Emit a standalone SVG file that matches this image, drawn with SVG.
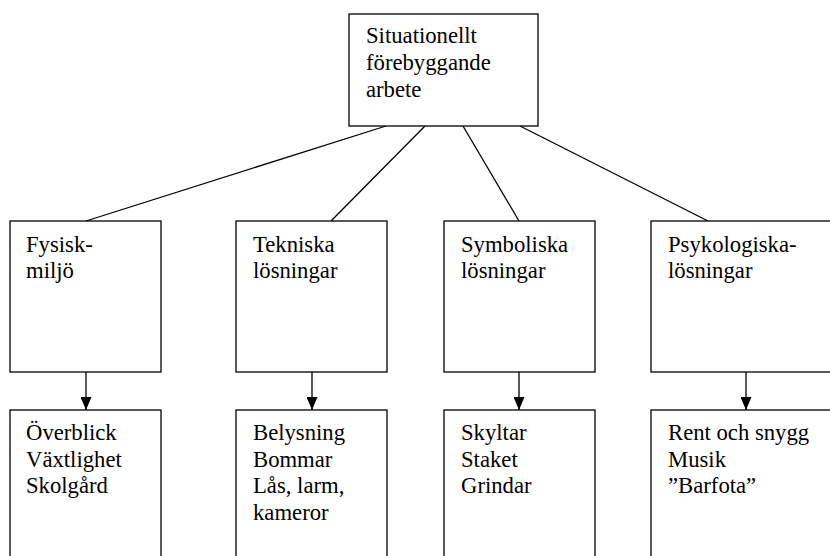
<svg xmlns="http://www.w3.org/2000/svg" width="830" height="556" viewBox="0 0 830 556" font-family="'Liberation Serif', 'DejaVu Serif', serif">
<style>
rect{fill:#fff;stroke:#000;stroke-width:1.3}
text{font-family:'Liberation Serif','DejaVu Serif',serif;font-size:22.7px;fill:#000}
.c line{stroke:#000;stroke-width:1.3}
</style>
<defs>
<marker id="ah" markerUnits="userSpaceOnUse" markerWidth="13" markerHeight="11" refX="13" refY="5.5" orient="auto" viewBox="0 0 13 11">
<path d="M0,0 L13,5.5 L0,11 Z" fill="#000"/>
</marker>
</defs>
<rect x="0" y="0" width="830" height="556" style="stroke:none"/>
<g class="c" id="connectors">
<line x1="386" y1="126" x2="86" y2="221"/>
<line x1="425" y1="126" x2="331" y2="221"/>
<line x1="463" y1="126" x2="519" y2="221"/>
<line x1="520" y1="126" x2="708" y2="221"/>
<line x1="86" y1="372" x2="86" y2="410" marker-end="url(#ah)"/>
<line x1="312" y1="372" x2="312" y2="410" marker-end="url(#ah)"/>
<line x1="519" y1="372" x2="519" y2="410" marker-end="url(#ah)"/>
<line x1="746" y1="372" x2="746" y2="410" marker-end="url(#ah)"/>
</g>
<g id="root">
<rect x="349" y="14" width="189" height="112"/>
<text x="366" y="43">Situationellt</text>
<text x="366" y="70">förebyggande</text>
<text x="366" y="96.5">arbete</text>
</g>
<g id="fysisk">
<rect x="10" y="221" width="151" height="151"/>
<text x="26" y="251.5">Fysisk-</text>
<text x="26" y="278">miljö</text>
</g>
<g id="tekniska">
<rect x="236" y="221" width="151" height="151"/>
<text x="253" y="251.5">Tekniska</text>
<text x="253" y="278">lösningar</text>
</g>
<g id="symboliska">
<rect x="444" y="221" width="151" height="151"/>
<text x="461" y="251.5">Symboliska</text>
<text x="461" y="278">lösningar</text>
</g>
<g id="psykologiska">
<rect x="651" y="221" width="200" height="151"/>
<text x="668" y="251.5">Psykologiska-</text>
<text x="668" y="278">lösningar</text>
</g>
<g id="fysisk-ex">
<rect x="10" y="410" width="151" height="160"/>
<text x="26" y="440">Överblick</text>
<text x="26" y="466.5">Växtlighet</text>
<text x="26" y="493">Skolgård</text>
</g>
<g id="tekniska-ex">
<rect x="236" y="410" width="151" height="160"/>
<text x="253" y="440">Belysning</text>
<text x="253" y="466.5">Bommar</text>
<text x="253" y="493">Lås, larm,</text>
<text x="253" y="519.5">kameror</text>
</g>
<g id="symboliska-ex">
<rect x="444" y="410" width="151" height="160"/>
<text x="461" y="440">Skyltar</text>
<text x="461" y="466.5">Staket</text>
<text x="461" y="493">Grindar</text>
</g>
<g id="psykologiska-ex">
<rect x="651" y="410" width="200" height="160"/>
<text x="668" y="440">Rent och snygg</text>
<text x="668" y="466.5">Musik</text>
<text x="668" y="493">”Barfota”</text>
</g>
</svg>
